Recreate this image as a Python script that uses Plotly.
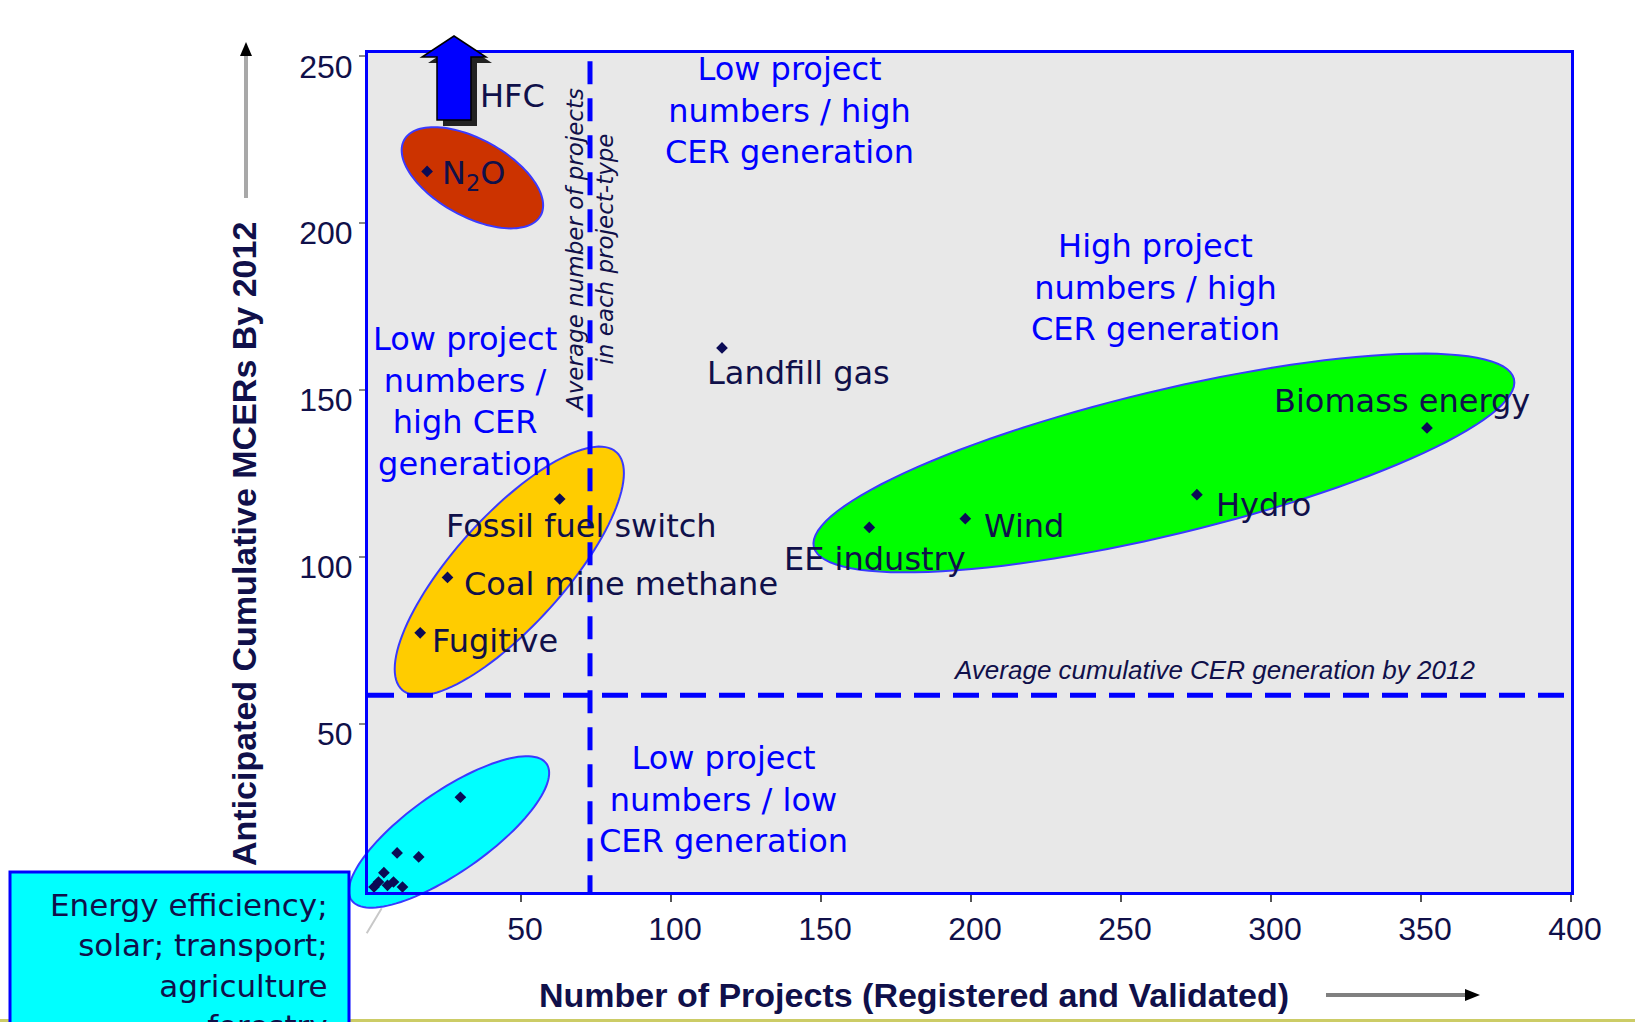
import math
import plotly.graph_objects as go

# ---------------- data ----------------
project_types = ["N<sub>2</sub>O", "Landfill gas", "Fossil fuel switch", "Coal mine methane",
                 "Fugitive", "EE industry", "Wind", "Hydro", "Biomass energy"]
num_projects = [18.7, 117.0, 62.9, 25.5, 16.4, 166.1, 198.1, 275.3, 352.0]
cum_mcers = [215.5, 162.6, 117.3, 93.8, 77.2, 108.8, 111.4, 118.6, 138.6]

# energy efficiency / solar / transport / agriculture / forestry cluster
small_projects = [29.8, 8.7, 15.9, 4.3, 1.0, 2.5, 5.5, 7.5, 10.5]
small_mcers = [27.9, 11.2, 10.0, 5.3, 1.0, 2.5, 1.5, 2.5, 1.0]

avg_projects = 73      # average number of projects per project type
avg_mcers = 58.5       # average cumulative CER generation by 2012

x_ticks = [50, 100, 150, 200, 250, 300, 350, 400]
y_ticks = [50, 100, 150, 200, 250]
x_range = [-1, 400]
y_range = [-0.5, 251]

# ---------------- geometry helpers ----------------
FIG_W, FIG_H = 1635, 1022
M_L, M_R, M_T, M_B = 368, 64, 53, 130
PW = FIG_W - M_L - M_R
PH = FIG_H - M_T - M_B

DARK = "#10104A"
BLUE = "#0000FF"
LABEL_FONT = "DejaVu Sans"
ARIAL = "Liberation Sans, Arial"


def to_px(x, y):
    px = M_L + (x - x_range[0]) / (x_range[1] - x_range[0]) * PW
    py = M_T + (y_range[1] - y) / (y_range[1] - y_range[0]) * PH
    return px, py


def paper(px, py):
    return (px - M_L) / PW, (M_T + PH - py) / PH


def poly_path(points):
    pts = [paper(px, py) for px, py in points]
    return "M" + " L".join(f"{a:.5f},{b:.5f}" for a, b in pts) + " Z"


def ellipse_path(cx, cy, a, b, ang_deg, n=120):
    pcx, pcy = to_px(cx, cy)
    t = math.radians(ang_deg)
    pts = []
    for i in range(n):
        s = 2 * math.pi * i / n
        ex, ey = a * math.cos(s), b * math.sin(s)
        px = pcx + ex * math.cos(t) - ey * math.sin(t)
        py = pcy - (ex * math.sin(t) + ey * math.cos(t))
        pts.append((px, py))
    return poly_path(pts)


# group ellipses: centre in data units, semi-axes in px, screen angle in degrees
ellipse_specs = [
    dict(center=(33.8, 213.6), a=78, b=38.5, angle=-29, fill="#CC3300"),
    dict(center=(46.1, 95.7), a=160, b=55, angle=48, fill="#FFCC00"),
    dict(center=(26.0, 17.5), a=119, b=40, angle=35, fill="#00FFFF"),
    dict(center=(264.3, 128.1), a=360, b=72, angle=13.5, fill="#00FF00"),
]

# label offsets (px) from each point
label_offsets = [(13, -4), (-17, -25), (-116, -27), (14, -7), (10, -8),
                 (-87, -32), (17, -7), (17, -10), (-155, 27)]

shapes = []
for e in ellipse_specs:
    shapes.append(dict(type="path", xref="paper", yref="paper", layer="below",
                       path=ellipse_path(*e["center"], e["a"], e["b"], e["angle"]),
                       fillcolor=e["fill"], line=dict(color="#3A3AFF", width=2)))

# average lines
shapes.append(dict(type="line", xref="x", yref="y", layer="below",
                   x0=avg_projects, x1=avg_projects, y0=248.5, y1=y_range[0],
                   line=dict(color=BLUE, width=5, dash="23px,14px")))
shapes.append(dict(type="line", xref="paper", yref="y", layer="below",
                   x0=0, x1=1.004, y0=avg_mcers, y1=avg_mcers,
                   line=dict(color=BLUE, width=5, dash="26px,13px")))

# HFC off-scale arrow (shadow then body)
arrow_pts = [(454, 36), (486, 57), (471, 57), (471, 120), (437, 120), (437, 57), (422, 57)]
shadow_pts = [(x + 6, y + 6) for x, y in arrow_pts]
shapes.append(dict(type="path", xref="paper", yref="paper", layer="above",
                   path=poly_path(shadow_pts), fillcolor="#222222", line=dict(width=0)))
shapes.append(dict(type="path", xref="paper", yref="paper", layer="above",
                   path=poly_path(arrow_pts), fillcolor="#0000FF",
                   line=dict(color="#000000", width=1.5)))

# bottom band and the cyan call-out box
bx0, by0 = paper(0, 1019)
bx1, by1 = paper(FIG_W, FIG_H + 5)
shapes.append(dict(type="rect", xref="paper", yref="paper", layer="above",
                   x0=bx0, x1=bx1, y0=by0, y1=by1, fillcolor="#CCCC66", line=dict(width=0)))
cx0, cy0 = paper(10, 872)
cx1, cy1 = paper(349, FIG_H + 10)
shapes.append(dict(type="rect", xref="paper", yref="paper", layer="above",
                   x0=cx0, x1=cx1, y0=cy0, y1=cy1, fillcolor="#00FFFF",
                   line=dict(color=BLUE, width=3)))
# leader from the call-out to the cluster
lx0, ly0 = paper(381.7, 908.3)
lx1, ly1 = paper(366.7, 933.3)
shapes.append(dict(type="line", xref="paper", yref="paper", layer="above",
                   x0=lx0, y0=ly0, x1=lx1, y1=ly1, line=dict(color="#C8C8C8", width=2)))

# axis direction arrows
ax0, ay0 = paper(246, 198)
ax1, ay1 = paper(246, 54)
shapes.append(dict(type="line", xref="paper", yref="paper", layer="above",
                   x0=ax0, y0=ay0, x1=ax1, y1=ay1, line=dict(color="#A8A8A8", width=4)))
shapes.append(dict(type="path", xref="paper", yref="paper", layer="above",
                   path=poly_path([(246, 42), (252, 56), (240, 56)]),
                   fillcolor="#000000", line=dict(width=0)))
hx0, hy0 = paper(1326, 995)
hx1, hy1 = paper(1466, 995)
shapes.append(dict(type="line", xref="paper", yref="paper", layer="above",
                   x0=hx0, y0=hy0, x1=hx1, y1=hy1, line=dict(color="#808080", width=4)))
shapes.append(dict(type="path", xref="paper", yref="paper", layer="above",
                   path=poly_path([(1480, 995), (1465, 989), (1465, 1001)]),
                   fillcolor="#000000", line=dict(width=0)))

fig = go.Figure()
fig.add_trace(go.Scatter(x=num_projects, y=cum_mcers, mode="markers", cliponaxis=False,
                         marker=dict(symbol="diamond", size=9, color="#0B0B55"),
                         hoverinfo="skip", showlegend=False))
fig.add_trace(go.Scatter(x=small_projects, y=small_mcers, mode="markers", cliponaxis=False,
                         marker=dict(symbol="diamond", size=9, color="#0B0B55"),
                         hoverinfo="skip", showlegend=False))

annotations = []
for name, xv, yv, (dx, dy) in zip(project_types, num_projects, cum_mcers, label_offsets):
    annotations.append(dict(x=xv, y=yv, xref="x", yref="y", text=name, showarrow=False,
                            xanchor="left", yanchor="middle", xshift=dx, yshift=dy,
                            font=dict(family=LABEL_FONT, size=32, color=DARK)))


def text_at(px, py, text, size, color, family=LABEL_FONT, xanchor="center",
            yanchor="middle", align="center", angle=0):
    xp, yp = paper(px, py)
    annotations.append(dict(x=xp, y=yp, xref="paper", yref="paper", text=text,
                            showarrow=False, xanchor=xanchor, yanchor=yanchor,
                            align=align, textangle=angle,
                            font=dict(family=family, size=size, color=color)))


text_at(478, 96, "HFC", 32, DARK, xanchor="left")

# quadrant descriptions
text_at(789, 111, "Low project<br>numbers / high<br>CER generation", 32, BLUE)
text_at(1155, 287, "High project<br>numbers / high<br>CER generation", 32, BLUE)
text_at(465, 401, "Low project<br>numbers /<br>high CER<br>generation", 32, BLUE)
text_at(723, 799, "Low project<br>numbers / low<br>CER generation", 32, BLUE)

# average-line captions
text_at(590, 250, "<i>Average number of projects<br>in each project-type</i>", 23, DARK,
        angle=-90)
text_at(1214, 670, "<i>Average cumulative CER generation by 2012</i>", 26, DARK,
        family=ARIAL)

# axis titles
text_at(914, 995, "<b>Number of Projects (Registered and Validated)</b>", 34, DARK,
        family=ARIAL)
text_at(244, 544, "<b>Anticipated Cumulative MCERs By 2012</b>", 34, DARK,
        family=ARIAL, angle=-90)

# call-out text
text_at(330, 885, "Energy efficiency;<br>solar; transport;<br>agriculture<br>forestry", 31,
        DARK, xanchor="right", yanchor="top", align="right")

fig.update_layout(
    width=FIG_W, height=FIG_H,
    margin=dict(l=M_L, r=M_R, t=M_T, b=M_B, pad=0),
    paper_bgcolor="#FFFFFF", plot_bgcolor="#E8E8E8",
    shapes=shapes, annotations=annotations, showlegend=False,
    xaxis=dict(range=x_range, tickvals=x_ticks, showgrid=False, zeroline=False,
               showline=True, mirror=True, linecolor=BLUE, linewidth=3,
               ticks="outside", ticklen=7, tickwidth=2, tickcolor="#555555",
               ticklabelstandoff=0, ticklabelshift=4,
               tickfont=dict(family=ARIAL, size=32, color=DARK)),
    yaxis=dict(range=y_range, tickvals=y_ticks, showgrid=False, zeroline=False,
               showline=True, mirror=True, linecolor=BLUE, linewidth=3,
               ticks="outside", ticklen=6, tickwidth=2, tickcolor="#888888",
               ticklabelstandoff=0, ticklabelshift=10,
               tickfont=dict(family=ARIAL, size=32, color=DARK)),
)

fig.write_html("out.html")
